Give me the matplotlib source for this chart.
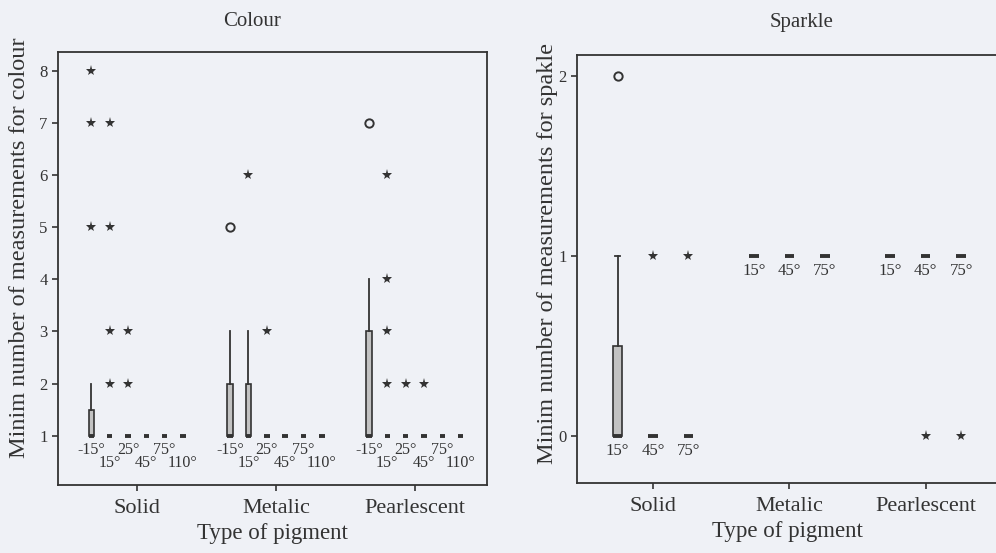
import matplotlib
matplotlib.use("Agg")
import matplotlib.pyplot as plt
import numpy as np

plt.rcParams['font.family'] = ['Liberation Serif', 'DejaVu Serif']

# ---------------- data ----------------
categories = ['Solid', 'Metalic', 'Pearlescent']

colour_angles = ['-15°', '15°', '25°', '45°', '75°', '110°']
colour_q1 = [[1, 1, 1, 1, 1, 1], [1, 1, 1, 1, 1, 1], [1, 1, 1, 1, 1, 1]]
colour_med = [[1, 1, 1, 1, 1, 1], [1, 1, 1, 1, 1, 1], [1, 1, 1, 1, 1, 1]]
colour_q3 = [[1.5, 1, 1, 1, 1, 1], [2, 2, 1, 1, 1, 1], [3, 1, 1, 1, 1, 1]]
colour_whislo = [[1, 1, 1, 1, 1, 1], [1, 1, 1, 1, 1, 1], [1, 1, 1, 1, 1, 1]]
colour_whishi = [[2, 1, 1, 1, 1, 1], [3, 3, 1, 1, 1, 1], [4, 1, 1, 1, 1, 1]]
colour_outliers = [[[], [], [], [], [], []],
                   [[5], [], [], [], [], []],
                   [[7], [], [], [], [], []]]
colour_extremes = [[[8, 7, 5], [7, 5, 3, 2], [3, 2], [], [], []],
                   [[], [6], [3], [], [], []],
                   [[], [6, 4, 3, 2], [2], [2], [], []]]
colour_yticks = [1, 2, 3, 4, 5, 6, 7, 8]

sparkle_angles = ['15°', '45°', '75°']
sparkle_q1 = [[0, 0, 0], [1, 1, 1], [1, 1, 1]]
sparkle_med = [[0, 0, 0], [1, 1, 1], [1, 1, 1]]
sparkle_q3 = [[0.5, 0, 0], [1, 1, 1], [1, 1, 1]]
sparkle_whislo = [[0, 0, 0], [1, 1, 1], [1, 1, 1]]
sparkle_whishi = [[1, 0, 0], [1, 1, 1], [1, 1, 1]]
sparkle_outliers = [[[2], [], []], [[], [], []], [[], [], []]]
sparkle_extremes = [[[], [1], [1]], [[], [], []], [[], [0], [0]]]
sparkle_yticks = [0, 1, 2]

# ---------------- style ----------------
BG = '#eff1f6'
INK = '#333333'
BOXFILL = '#c2c2c2'

W, H = 996, 553
fig = plt.figure(figsize=(W / 100, H / 100), dpi=100, facecolor=BG)


def draw_panel(ax, angles, q1, med, q3, wlo, whi, outl, extr, spacing, bwidth,
               capw, label_offsets, yticks, ylim, xlim, tick_fs, ang_fs):
    ax.set_facecolor(BG)
    n = len(angles)
    for ci in range(len(categories)):
        stats, pos = [], []
        for ai in range(n):
            p = ci + (ai - (n - 1) / 2) * spacing
            pos.append(p)
            stats.append(dict(q1=q1[ci][ai], med=med[ci][ai], q3=q3[ci][ai],
                              whislo=wlo[ci][ai], whishi=whi[ci][ai], fliers=[]))
        ax.bxp(stats, positions=pos, widths=bwidth, showfliers=False,
               patch_artist=True, capwidths=capw,
               boxprops=dict(facecolor=BOXFILL, edgecolor=INK, linewidth=1.2),
               medianprops=dict(color=INK, linewidth=2.8, solid_capstyle='butt'),
               whiskerprops=dict(color=INK, linewidth=1.3),
               capprops=dict(color=INK, linewidth=1.3),
               manage_ticks=False)
        for ai in range(n):
            p = pos[ai]
            if outl[ci][ai]:
                ax.plot([p] * len(outl[ci][ai]), outl[ci][ai], 'o', ms=6,
                        mfc='none', mec=INK, mew=1.4, zorder=5)
            if extr[ci][ai]:
                ax.plot([p] * len(extr[ci][ai]), extr[ci][ai], '*', ms=8,
                        color=INK, zorder=5, mew=0)
            ax.annotate(angles[ai], xy=(p, q1[ci][ai]),
                        xytext=(0, label_offsets[ai % len(label_offsets)]),
                        textcoords='offset points', ha='center', va='center',
                        fontsize=ang_fs, color=INK)
    ax.set_xlim(*xlim)
    ax.set_ylim(*ylim)
    ax.set_xticks(range(len(categories)))
    ax.set_xticklabels(categories, fontsize=tick_fs, color=INK)
    ax.set_yticks(yticks)
    ax.set_yticklabels([str(t) for t in yticks], fontsize=12, color=INK)
    ax.tick_params(axis='both', direction='out', length=4, width=1.2, color=INK)
    ax.tick_params(axis='x', pad=6)
    for s in ax.spines.values():
        s.set_color(INK)
        s.set_linewidth(1.3)


# Colour panel
ax1 = fig.add_axes([58 / W, 68 / H, 429 / W, 433 / H])
draw_panel(ax1, colour_angles, colour_q1, colour_med, colour_q3, colour_whislo,
           colour_whishi, colour_outliers, colour_extremes,
           spacing=0.132, bwidth=0.04, capw=0.0, label_offsets=[-10.5, -19.5],
           yticks=colour_yticks, ylim=(0.05, 8.37), xlim=(-0.57, 2.52),
           tick_fs=16, ang_fs=11.5)
ax1.set_xlabel('Type of pigment', fontsize=16.5, color=INK, labelpad=4)

# Sparkle panel
ax2 = fig.add_axes([577 / W, 70 / H, 421 / W, 428 / H])
draw_panel(ax2, sparkle_angles, sparkle_q1, sparkle_med, sparkle_q3, sparkle_whislo,
           sparkle_whishi, sparkle_outliers, sparkle_extremes,
           spacing=0.26, bwidth=0.07, capw=0.03, label_offsets=[-11],
           yticks=sparkle_yticks, ylim=(-0.26, 2.115), xlim=(-0.557, 2.53),
           tick_fs=16, ang_fs=12)
ax2.set_xlabel('Type of pigment', fontsize=16.5, color=INK, labelpad=4)

# Titles and y labels
fig.text(252 / W, 1 - 22 / H, 'Colour', ha='center', va='center', fontsize=15, color=INK)
fig.text(802 / W, 1 - 22 / H, 'Sparkle', ha='center', va='center', fontsize=15, color=INK)
fig.text(20 / W, 1 - 248 / H, 'Minim number of measurements for colour', rotation=90,
         ha='center', va='center', fontsize=17.5, color=INK)
fig.text(547 / W, 1 - 253 / H, 'Minim number of measurements for spakle', rotation=90,
         ha='center', va='center', fontsize=17.5, color=INK)

fig.savefig('out.png', dpi=100, facecolor=BG)
